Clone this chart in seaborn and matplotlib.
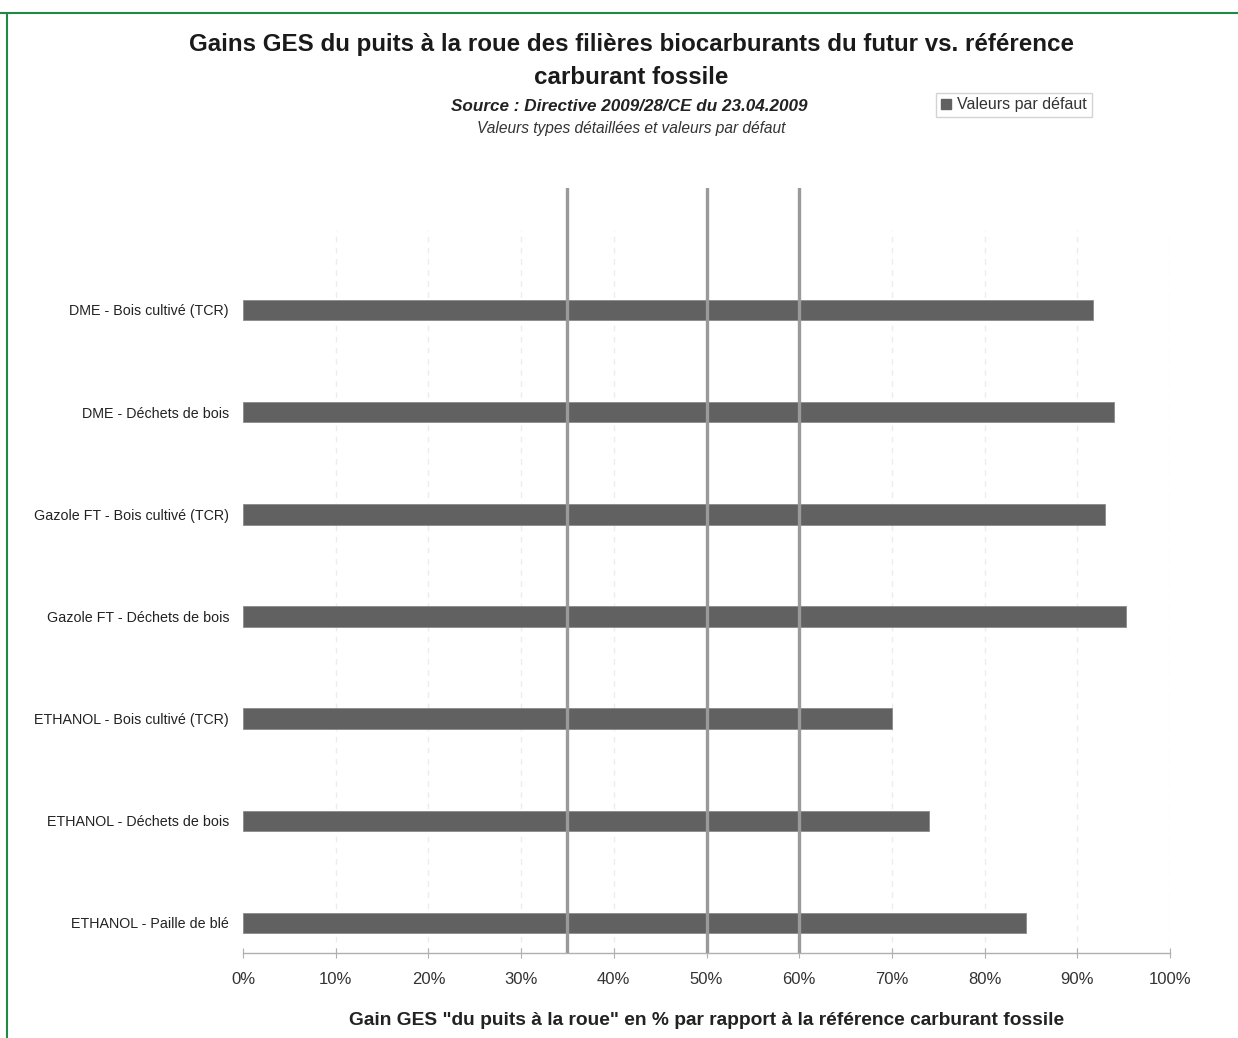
import matplotlib
matplotlib.use("Agg")
import matplotlib.pyplot as plt
from matplotlib.lines import Line2D
from matplotlib.patches import Patch
import seaborn as sns
import pandas as pd

categories = [
    "DME - Bois cultivé (TCR)",
    "DME - Déchets de bois",
    "Gazole FT - Bois cultivé (TCR)",
    "Gazole FT - Déchets de bois",
    "ETHANOL - Bois cultivé (TCR)",
    "ETHANOL - Déchets de bois",
    "ETHANOL - Paille de blé",
]
default_values = [91.7, 94, 93, 95.2, 70, 74, 84.5]
thresholds = [35, 50, 60]
xticks = list(range(0, 101, 10))
xtick_labels = [f"{v}%" for v in xticks]

df = pd.DataFrame({"cat": categories, "val": default_values})

sns.set_theme(style="white")
plt.rcParams["font.family"] = ["Liberation Sans", "DejaVu Sans"]

W, H = 1238, 1038
fig = plt.figure(figsize=(W / 100, H / 100), dpi=100)
ax = fig.add_axes([243 / W, 1 - 953 / H, (1170 - 243) / W, (953 - 188) / H])

bar_color = "#616161"
sns.barplot(data=df, y="cat", x="val", orient="h", color=bar_color,
            width=0.2, ax=ax, saturation=1, edgecolor="#8a8a8a", linewidth=0.6)

ax.set_xlim(0, 100)
ax.set_ylim(6.294, -1.194)

# faint dashed grid lines
grid_top_frac = (953 - 230) / (953 - 188)
for v in xticks[1:]:
    ax.axvline(v, ymin=0, ymax=grid_top_frac, color="#ececec", lw=1.0,
               ls=(0, (4, 4)), zorder=0)

for t in thresholds:
    ax.axvline(t, color="#9a9a9a", lw=2.4, zorder=3)

for s in ["top", "right", "left"]:
    ax.spines[s].set_visible(False)
ax.spines["bottom"].set_color("#b0b0b0")
ax.spines["bottom"].set_linewidth(1.0)

ax.set_xticks(xticks)
ax.set_xticklabels(xtick_labels, fontsize=12, color="#333333")
ax.tick_params(axis="x", direction="inout", length=7, width=0.8,
               color="#b0b0b0", pad=10, bottom=True)
ax.tick_params(axis="y", length=0, pad=10, labelsize=10.3, labelcolor="#222222")
ax.set_ylabel("")
ax.set_xlabel('Gain GES "du puits à la roue" en % par rapport à la référence carburant fossile',
              fontsize=13.8, fontweight="bold", color="#222222", labelpad=18)

fig.text(631 / W, 1 - 45 / H,
         "Gains GES du puits à la roue des filières biocarburants du futur vs. référence",
         ha="center", va="center", fontsize=17.4, fontweight="bold", color="#1a1a1a")
fig.text(631 / W, 1 - 77 / H, "carburant fossile",
         ha="center", va="center", fontsize=17.4, fontweight="bold", color="#1a1a1a")
fig.text(629 / W, 1 - 107 / H, "Source : Directive 2009/28/CE du 23.04.2009",
         ha="center", va="center", fontsize=12.3, fontweight="bold",
         style="italic", color="#222222")
fig.text(631 / W, 1 - 129 / H, "Valeurs types détaillées et valeurs par défaut",
         ha="center", va="center", fontsize=11.2, style="italic", color="#333333")

handles = [Patch(facecolor=bar_color, edgecolor=bar_color)]
leg = fig.legend(handles, ["Valeurs par défaut"], loc="center",
                 bbox_to_anchor=(1014 / W, 1 - 105 / H), fontsize=11.5,
                 frameon=True, fancybox=False, handlelength=0.6, handleheight=0.6,
                 handletextpad=0.4, borderpad=0.3, borderaxespad=0)
leg.get_frame().set_edgecolor("#c8c8c8")
leg.get_frame().set_linewidth(1.0)
for txt in leg.get_texts():
    txt.set_color("#333333")

# green page border
green = "#1f8a45"
fig.add_artist(Line2D([0, 1], [1 - 13 / H, 1 - 13 / H], transform=fig.transFigure,
                      color=green, lw=1.5))
fig.add_artist(Line2D([7 / W, 7 / W], [0, 1 - 13 / H], transform=fig.transFigure,
                      color=green, lw=1.5))

fig.savefig("out.png", dpi=100)
